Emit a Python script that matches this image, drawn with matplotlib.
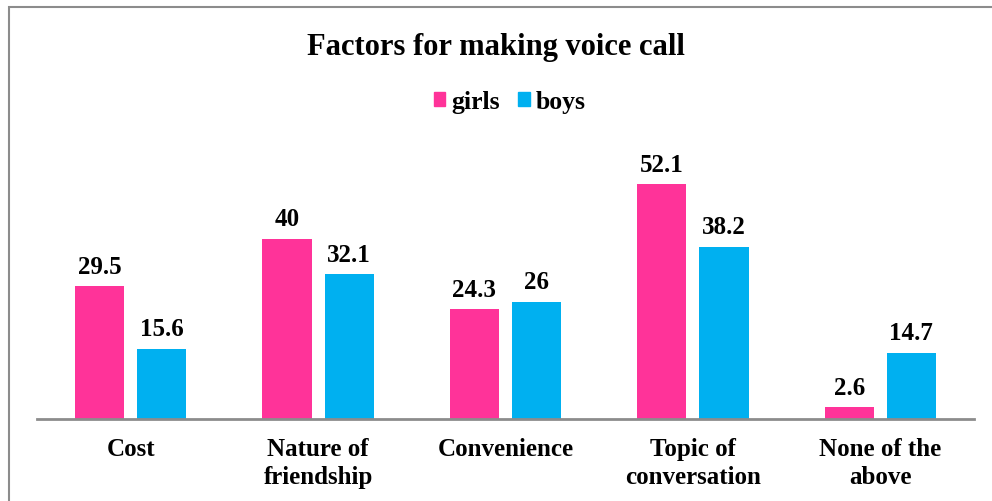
import matplotlib
matplotlib.use("Agg")
import matplotlib.pyplot as plt
from matplotlib.patches import Rectangle, Patch
import numpy as np

categories = ["Cost", "Nature of\nfriendship", "Convenience", "Topic of\nconversation", "None of the\nabove"]
girls = [29.5, 40, 24.3, 52.1, 2.6]
boys = [15.6, 32.1, 26, 38.2, 14.7]
series_names = ["girls", "boys"]
colors = ["#FF3399", "#00B0F0"]

plt.rcParams["font.family"] = ["Liberation Serif", "DejaVu Serif"]
plt.rcParams["font.weight"] = "bold"

W, H = 992, 502
fig = plt.figure(figsize=(W / 100, H / 100), dpi=100)

# chart frame (partly running off the canvas)
fig.patches.append(Rectangle((9 / W, -0.1), 1.2, 1 - 8 / H + 0.1, transform=fig.transFigure,
                             fill=False, edgecolor="#8c8c8c", linewidth=1.5))

ax_l, ax_r, ax_b = 37 / W, 974 / W, (H - 420) / H
ymax = 60
ax_top_px = 420 - ymax * 4.51
ax = fig.add_axes([ax_l, ax_b, ax_r - ax_l, (420 - ax_top_px) / H])

x = np.arange(len(categories))
bw = 0.262
gap = 0.07
off = (bw + gap) / 2
b1 = ax.bar(x - off, girls, bw, color=colors[0], label=series_names[0])
b2 = ax.bar(x + off, boys, bw, color=colors[1], label=series_names[1])

for bars, vals in ((b1, girls), (b2, boys)):
    for rect, v in zip(bars, vals):
        ax.annotate(f"{v:g}", (rect.get_x() + rect.get_width() / 2, v),
                    xytext=(0, 6), textcoords="offset points",
                    ha="center", va="bottom", fontsize=18, fontweight="bold")

ax.set_xlim(-0.5, len(categories) - 0.5)
ax.set_ylim(0, ymax)
ax.set_xticks(x)
ax.set_xticklabels(categories, fontsize=18, fontweight="bold", linespacing=1.3)
ax.tick_params(axis="x", length=0, pad=13)
ax.set_yticks([])
for s in ("top", "right", "left"):
    ax.spines[s].set_visible(False)
ax.spines["bottom"].set_color("#8c8c8c")
ax.spines["bottom"].set_linewidth(2)

fig.text(0.5, 1 - 48 / H, "Factors for making voice call", ha="center", va="center",
         fontsize=22, fontweight="bold")

handles = [Patch(color=c, label=n) for c, n in zip(colors, series_names)]
fig.legend(handles=handles, loc="center", bbox_to_anchor=(0.514, 1 - 103 / H), ncol=2,
           frameon=False, prop={"size": 18.5, "weight": "bold"},
           handlelength=0.45, handleheight=0.45, handletextpad=0.25, columnspacing=0.7)

fig.savefig("out.png", dpi=100)
